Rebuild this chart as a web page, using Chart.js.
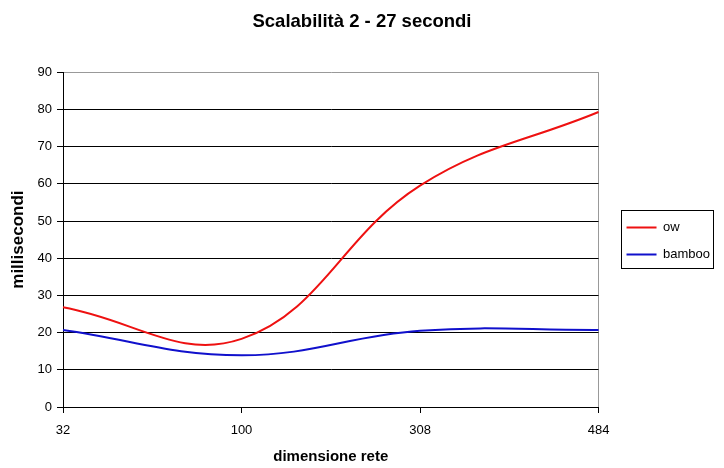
<!DOCTYPE html>
<html>
<head>
<meta charset="utf-8">
<script src="https://cdn.jsdelivr.net/npm/chart.js@4.4.1/dist/chart.umd.min.js"></script>
<style>
  html, body { margin: 0; padding: 0; background: #fff; }
  #wrap { width: 724px; height: 468px; }
</style>
</head>
<body>
<div id="wrap"><canvas id="grafico"></canvas></div>
<script>
// dati
const dimensioni = ['32', '100', '308', '484'];
const owMs = [26.8, 18.3, 59.5, 79.3];
const bambooMs = [20.7, 13.9, 20.5, 20.7];
const tickY = [0, 10, 20, 30, 40, 50, 60, 70, 80, 90];

const FONT = 'Arial, "Liberation Sans", sans-serif';

// titolo centrato su tutta la larghezza, legenda spostata e racchiusa in un riquadro come in Excel
const bordoLegenda = {
    id: 'bordoLegenda',
    afterLayout(chart) {
        const tb = chart.titleBlock;
        if (tb) {
            tb.left = 0;
            tb.right = chart.width;
            tb.width = chart.width;
        }
        const lg = chart.legend;
        if (!lg) return;
        const dx = chart.chartArea.right + 14 - lg.left;
        lg.left += dx;
        lg.right += dx;
        lg.top += 7;
        lg.bottom += 7;
    },
    afterDraw(chart) {
        const boxes = chart.legend && chart.legend.legendHitBoxes;
        if (!boxes || !boxes.length) return;
        let l = Infinity, t = Infinity, r = -Infinity, b = -Infinity;
        boxes.forEach(h => {
            l = Math.min(l, h.left);
            t = Math.min(t, h.top);
            r = Math.max(r, h.left + h.width);
            b = Math.max(b, h.top + h.height);
        });
        const ctx = chart.ctx;
        ctx.save();
        ctx.strokeStyle = '#000';
        ctx.lineWidth = 1;
        ctx.strokeRect(Math.round(l - 6) + 0.5, Math.round(t - 11) + 0.5,
                       Math.round(r - l + 9), Math.round(b - t + 18));
        ctx.restore();
    }
};

new Chart(document.getElementById('grafico').getContext('2d'), {
    type: 'line',
    data: {
        labels: dimensioni,
        datasets: [
            {
                label: 'ow',
                data: owMs,
                borderColor: '#ee1111',
                backgroundColor: '#ee1111',
                borderWidth: 2,
                tension: 0.4,
                pointRadius: 0,
                pointStyle: 'line'
            },
            {
                label: 'bamboo',
                data: bambooMs,
                borderColor: '#1010cc',
                backgroundColor: '#1010cc',
                borderWidth: 2,
                tension: 0.4,
                pointRadius: 0,
                pointStyle: 'line'
            }
        ]
    },
    options: {
        responsive: true,
        maintainAspectRatio: false,
        animation: false,
        layout: { padding: { left: 0, right: 18, top: 0, bottom: 0 } },
        plugins: {
            title: {
                display: true,
                text: 'Scalabilità 2 - 27 secondi',
                color: '#000',
                font: { family: FONT, size: 18.5, weight: 'bold' },
                padding: { top: 11, bottom: 39 }
            },
            legend: {
                position: 'right',
                labels: {
                    color: '#000',
                    font: { family: FONT, size: 13 },
                    usePointStyle: true,
                    pointStyleWidth: 30,
                    padding: 14
                }
            },
            tooltip: { enabled: false }
        },
        scales: {
            x: {
                type: 'category',
                offset: false,
                grid: {
                    offset: false,
                    color: c => c.index === dimensioni.length - 1 ? '#999' : 'rgba(0,0,0,0)',
                    tickColor: '#000',
                    tickLength: 6
                },
                border: { color: '#000' },
                ticks: { color: '#000', font: { family: FONT, size: 13 }, padding: 10, maxRotation: 0 },
                title: {
                    display: true,
                    text: 'dimensione rete',
                    color: '#000',
                    font: { family: FONT, size: 15, weight: 'bold' },
                    padding: { top: 0, bottom: 2 }
                },
                afterFit: s => { s.height = 61; }
            },
            y: {
                min: 0,
                max: 90,
                afterBuildTicks: s => { s.ticks = tickY.map(v => ({ value: v })); },
                grid: {
                    color: c => c.tick && c.tick.value === 90 ? '#999' : '#000',
                    tickColor: '#000',
                    tickLength: 6
                },
                border: { color: '#000' },
                ticks: { color: '#000', font: { family: FONT, size: 13 }, padding: 5 },
                title: {
                    display: true,
                    text: 'millisecondi',
                    color: '#000',
                    font: { family: FONT, size: 17, weight: 'bold' },
                    padding: { top: 8, bottom: 0 }
                },
                afterFit: s => { s.width = 63; }
            }
        }
    },
    plugins: [bordoLegenda]
});
</script>
</body>
</html>
